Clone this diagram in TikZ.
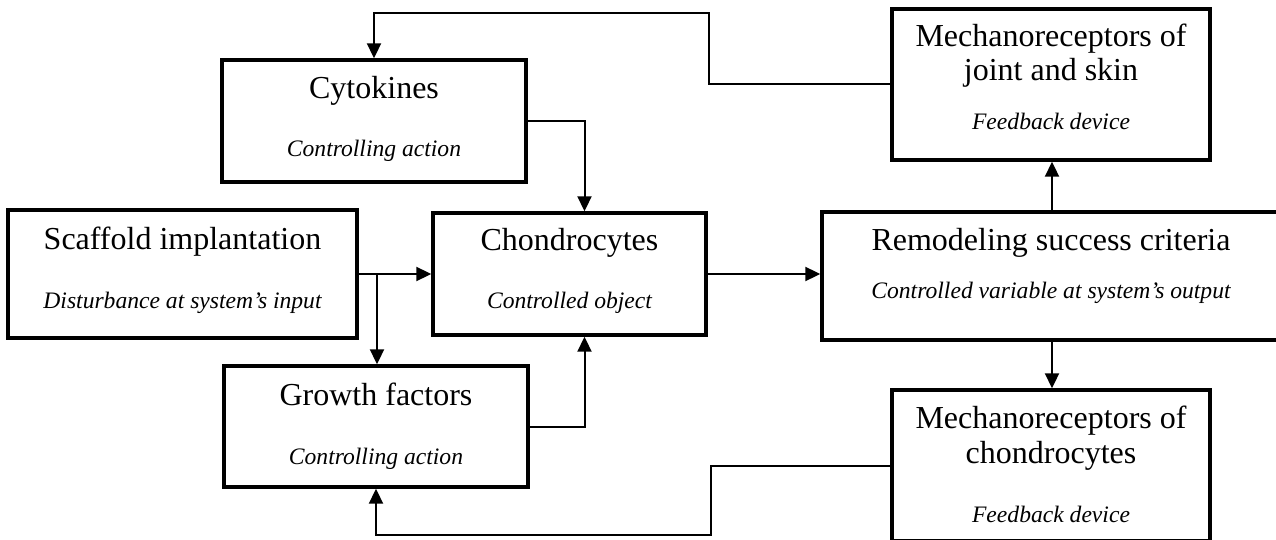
\documentclass[tikz,border=0pt]{standalone}
\usepackage{fontspec}
\setmainfont{Liberation Serif}
\usetikzlibrary{arrows.meta}
\tikzset{
  box/.style={draw=black, line width=3.4pt, fill=white, inner sep=0pt},
  ttl/.style={anchor=base, inner sep=0pt, font=\fontsize{32}{35}\selectfont},
  sub/.style={anchor=base, inner sep=0pt, font=\fontsize{23.6}{26}\selectfont\itshape},
  conn/.style={draw=black, line width=2pt},
  arr/.style={conn, -{Triangle[width=14pt,length=15pt]}}
}
\begin{document}
\begin{tikzpicture}[x=1pt,y=-1pt]
\useasboundingbox (0,0) rectangle (1276,540);
\begin{scope}
\clip (0,0) rectangle (1276,540);
% boxes
\node[box, minimum width=349pt, minimum height=128pt] (scaf) at (182.5,274) {};
\node[box, minimum width=304pt, minimum height=122pt] (cyt) at (374,121) {};
\node[box, minimum width=273pt, minimum height=122pt] (chon) at (569.5,274) {};
\node[box, minimum width=304pt, minimum height=121pt] (grow) at (376,426.5) {};
\node[box, minimum width=458pt, minimum height=128pt] (rem) at (1051,276) {};
\node[box, minimum width=318pt, minimum height=151pt] (mj) at (1051,84.5) {};
\node[box, minimum width=318pt, minimum height=151pt] (mc) at (1051,465.5) {};
% texts
\node[ttl] (scafT) at (182.5,249) {Scaffold implantation};
\node[sub] (scafS) at (182.5,308) {Disturbance at system’s input};
\node[ttl] (cytT) at (374,99) {Cytokines};
\node[sub] (cytS) at (374,157) {Controlling action};
\node[ttl] (chonT) at (569.5,250) {Chondrocytes};
\node[sub] (chonS) at (569.5,308) {Controlled object};
\node[ttl] (growT) at (376,405) {Growth factors};
\node[sub] (growS) at (376,464) {Controlling action};
\node[ttl] (remT) at (1051,250) {Remodeling success criteria};
\node[sub] (remS) at (1051,298) {Controlled variable at system’s output};
\node[ttl] (mjT1) at (1051,47) {Mechanoreceptors of};
\node[ttl] (mjT2) at (1051,81) {joint and skin};
\node[sub] (mjS) at (1051,130) {Feedback device};
\node[ttl] (mcT1) at (1051,428) {Mechanoreceptors of};
\node[ttl] (mcT2) at (1051,463) {chondrocytes};
\node[sub] (mcS) at (1051,522) {Feedback device};
% connectors
\coordinate (br) at (377,274);
\coordinate (t1) at (709,13);
\coordinate (b1) at (711,535);
\draw[arr] (scaf.east) -- (chon.west);
\draw[arr] (br) -- (br |- grow.north);
\draw[arr] (cyt.east) -| ([xshift=15pt]chon.north);
\draw[arr] (grow.east) -| ([xshift=15pt]chon.south);
\draw[arr] (chon.east) -- (rem.west |- chon.east);
\draw[arr] ([xshift=1pt]rem.north) -- ([xshift=1pt]mj.south);
\draw[arr] ([xshift=1pt]rem.south) -- ([xshift=1pt]mc.north);
\draw[arr] (mj.west) -| (t1) -| (cyt.north);
\draw[arr] (mc.west) -| (b1) -| (grow.south);
\end{scope}
\end{tikzpicture}
\end{document}
